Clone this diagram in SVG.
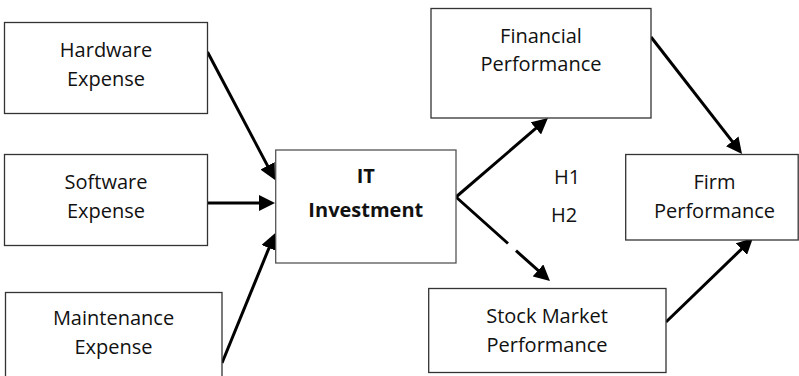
<svg xmlns="http://www.w3.org/2000/svg" width="799" height="376" viewBox="0 0 799 376">
<style>
.box{fill:#fff;stroke:#333;stroke-width:1.3}
.t{font-family:"Open Sans","Liberation Sans",sans-serif;font-size:20px;fill:#111;text-anchor:middle}
.b{font-weight:bold}
.c{stroke:#000;stroke-width:3;fill:none;marker-end:url(#ah)}
</style>
<defs>
<marker id="ah" markerUnits="userSpaceOnUse" markerWidth="16" markerHeight="16" refX="8" refY="8" orient="auto" viewBox="0 0 16 16">
<path d="M0,0 L16,8 L0,16 Z" fill="#000"/>
</marker>
</defs>
<rect width="799" height="376" fill="#fff"/>
<g id="connectors">
<path class="c" d="M207.5,52 L271.3,172.9"/>
<path class="c" d="M207.5,203 L267,203"/>
<path class="c" d="M222,363 L272,240.6"/>
<path class="c" d="M456,197 L541.9,123.2"/>
<path class="c" d="M456,197 L508,243.5 M516,250.7 L544,275.7"/>
<path class="c" d="M651,37 L737.1,147.7"/>
<path class="c" d="M666,322 L747.2,243.6"/>
</g>
<g id="hardware">
<rect class="box" x="4.5" y="22.5" width="203" height="91"/>
<text class="t" x="106" y="56.7">Hardware</text>
<text class="t" x="106" y="86">Expense</text>
</g>
<g id="software">
<rect class="box" x="4.5" y="154.5" width="203" height="91"/>
<text class="t" x="106" y="189.3">Software</text>
<text class="t" x="106" y="218.3">Expense</text>
</g>
<g id="maintenance">
<rect class="box" x="5.5" y="292.5" width="216.5" height="100"/>
<text class="t" x="113.5" y="325">Maintenance</text>
<text class="t" x="113.5" y="354.3">Expense</text>
</g>
<g id="it-investment">
<rect class="box" x="275.7" y="150" width="180.3" height="113" style="stroke:#555"/>
<text class="t b" x="365.8" y="182.7">IT</text>
<text class="t b" x="365.8" y="216.7">Investment</text>
</g>
<g id="financial">
<rect class="box" x="431" y="8.5" width="220" height="109.5"/>
<text class="t" x="541" y="42.7">Financial</text>
<text class="t" x="541" y="70.5">Performance</text>
</g>
<g id="stock">
<rect class="box" x="428.7" y="288.5" width="237.3" height="84"/>
<text class="t" x="547" y="322.7">Stock Market</text>
<text class="t" x="547" y="351.7">Performance</text>
</g>
<g id="firm">
<rect class="box" x="625.7" y="154.5" width="172.5" height="85.5"/>
<text class="t" x="714.5" y="189">Firm</text>
<text class="t" x="714.5" y="218.3">Performance</text>
</g>
<g id="labels">
<text class="t" x="567" y="184.3">H1</text>
<text class="t" x="564" y="221.7">H2</text>
</g>
</svg>
